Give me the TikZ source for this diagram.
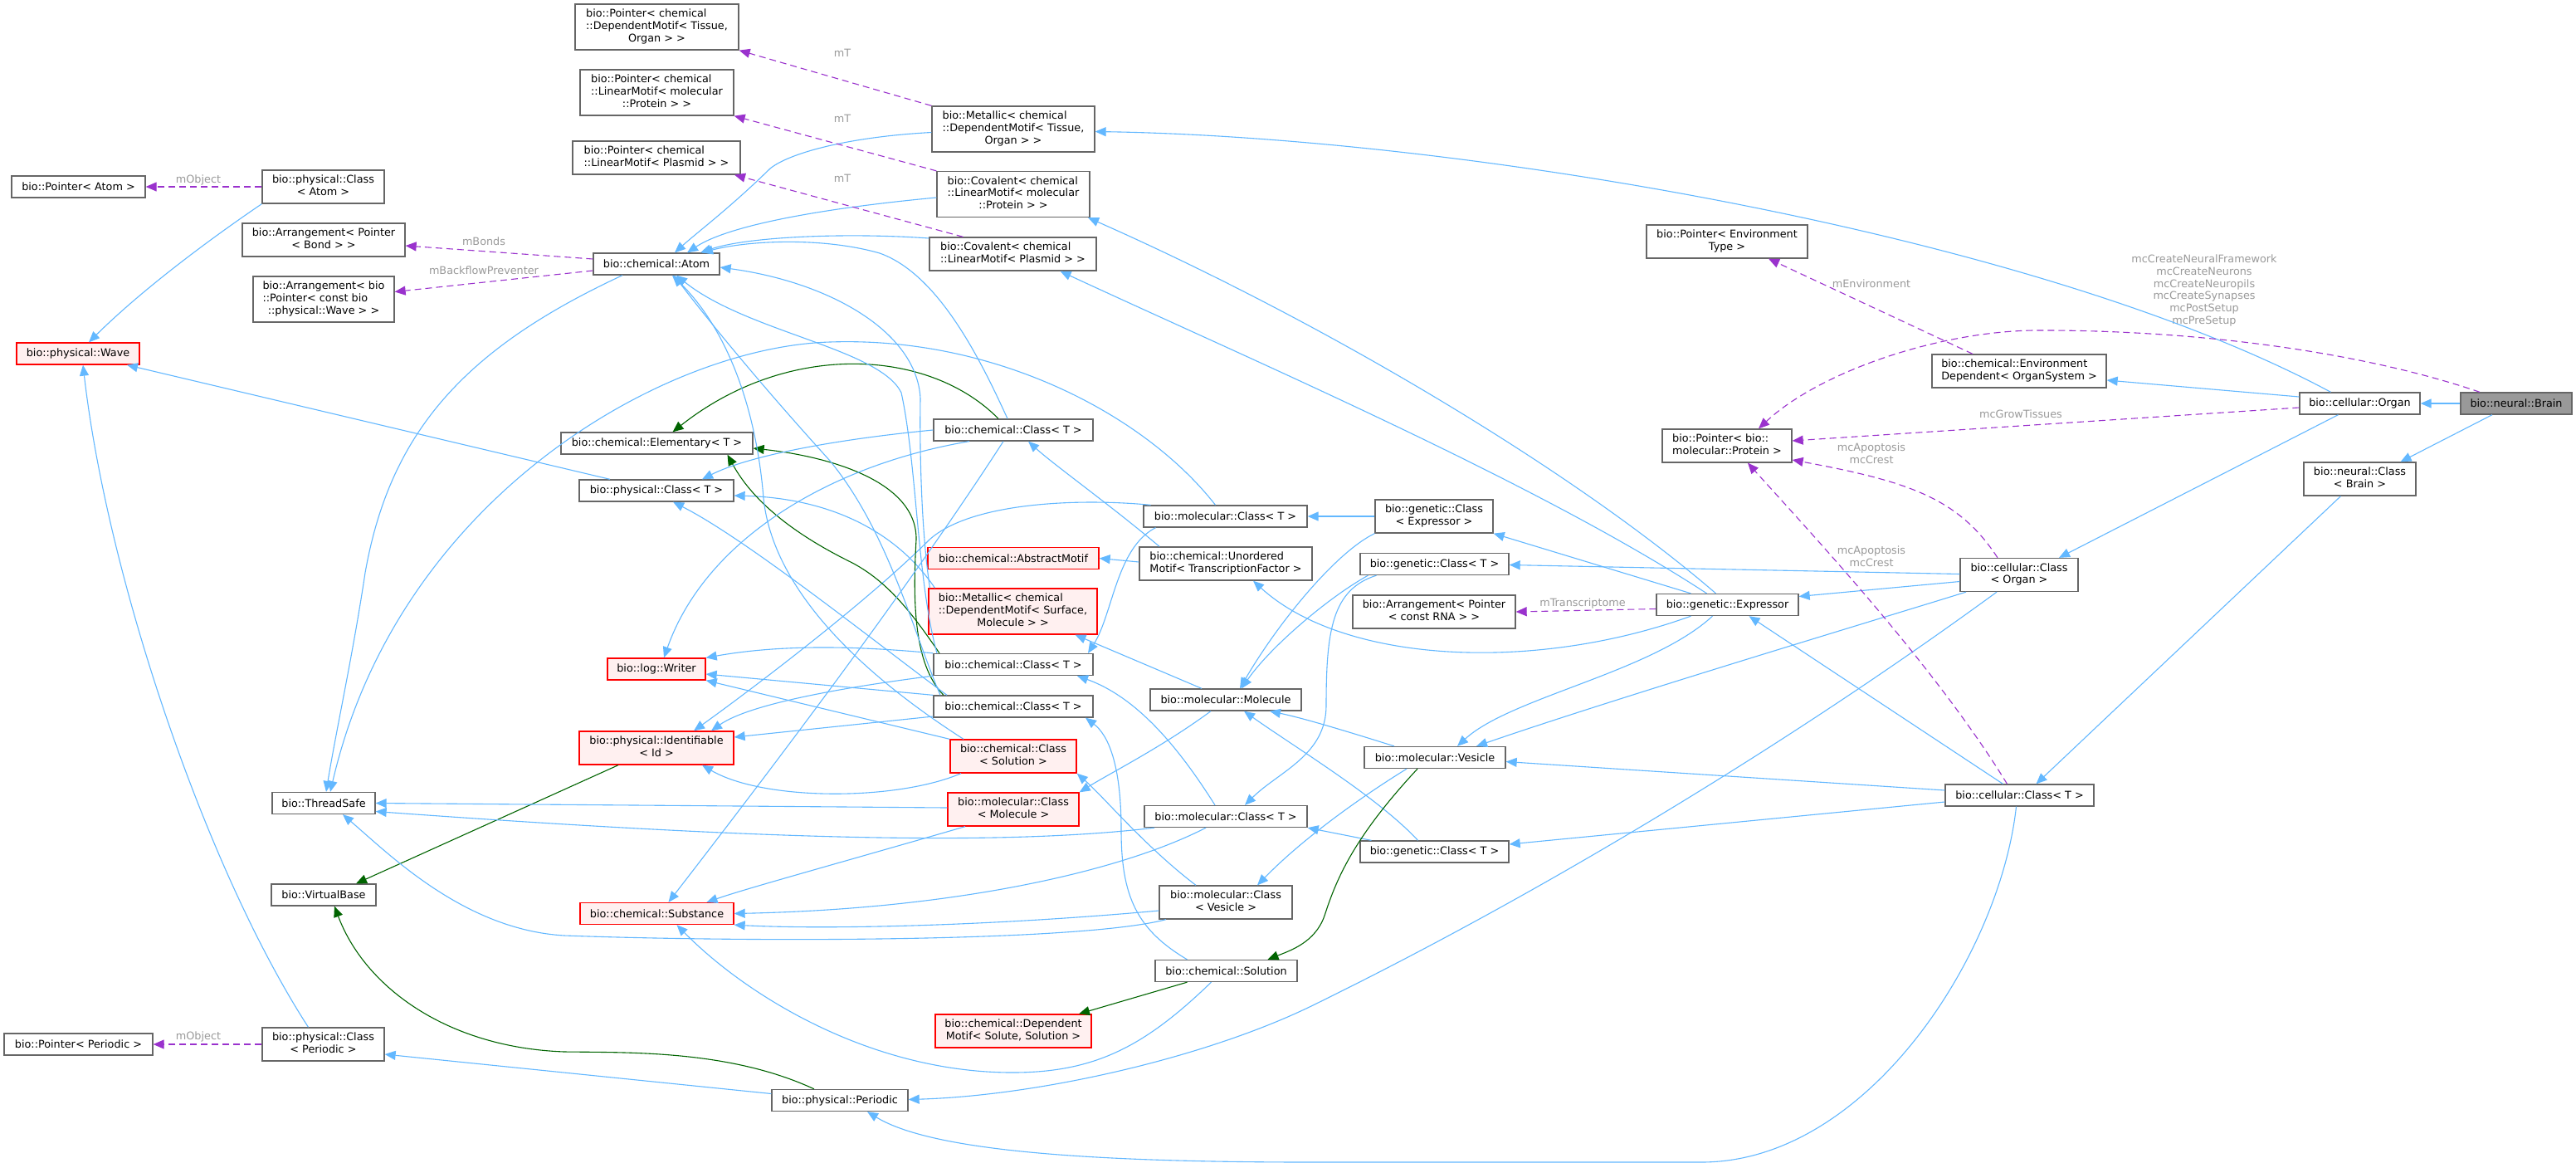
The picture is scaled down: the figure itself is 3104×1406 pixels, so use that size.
\documentclass[tikz,border=0pt]{standalone}
\usepackage{fontspec}
\setmainfont{DejaVu Sans}
\usetikzlibrary{arrows.meta}
\definecolor{eblue}{HTML}{63B8FF}
\definecolor{egreen}{HTML}{006400}
\definecolor{epurple}{HTML}{9A32CD}
\definecolor{lgray}{HTML}{9A9A9A}
\definecolor{nborder}{HTML}{666666}
\definecolor{rfill}{HTML}{FFF0F0}
\definecolor{bfill}{HTML}{999999}
\newcommand\NLtwo[2]{\begin{tabular}{@{}l@{}}#1\\\multicolumn{1}{@{}c@{}}{#2}\end{tabular}}
\newcommand\NLthree[3]{\begin{tabular}{@{}l@{}}#1\\#2\\\multicolumn{1}{@{}c@{}}{#3}\end{tabular}}
\begin{document}
\begin{tikzpicture}[x=1pt,y=-1pt,font=\fontsize{12.8}{14.7}\selectfont,
  nd/.style={draw=nborder,line width=1.3pt,fill=white,inner sep=0pt,align=center},
  rd/.style={nd,draw=red,fill=rfill},
  hA/.style={minimum height=26pt},
  hB/.style={minimum height=40pt},
  hC/.style={minimum height=55pt},
  eb/.style={draw=eblue,line width=1.1pt,-{Triangle[length=13pt,width=11pt]}},
  eg/.style={eb,draw=egreen},
  ep/.style={draw=epurple,line width=1.1pt,dash pattern=on 8pt off 5pt,-{Triangle[length=13pt,width=11pt]}},
  lbl/.style={text=lgray,inner sep=0pt,align=center}]
\fill[white] (0,0) rectangle (3104,1406);
\useasboundingbox (0,0) rectangle (3104,1406);
% ---------- nodes ----------
\node[nd,hA,minimum width=161pt] (PAtom) at (94.5,225) {bio::Pointer< Atom >};
\node[nd,hB,minimum width=147pt] (PhysClsAtom) at (389.5,225) {\NLtwo{bio::physical::Class}{< Atom >}};
\node[nd,hB,minimum width=196pt] (ArrBond) at (390,289) {\NLtwo{bio::Arrangement< Pointer}{< Bond > >}};
\node[nd,hC,minimum width=170pt] (ArrWave) at (390,360.5) {\NLthree{bio::Arrangement< bio}{::Pointer< const bio}{::physical::Wave > >}};
\node[rd,hA,minimum width=148pt] (Wave) at (94,426) {bio::physical::Wave};
\node[nd,hA,minimum width=152pt] (Atom) at (791,318) {bio::chemical::Atom};
\node[nd,hC,minimum width=197pt] (PDepTissue) at (791.5,32.5) {\NLthree{bio::Pointer< chemical}{::DependentMotif< Tissue,}{Organ > >}};
\node[nd,hC,minimum width=185pt] (PLinProt) at (791.5,111.5) {\NLthree{bio::Pointer< chemical}{::LinearMotif< molecular}{::Protein > >}};
\node[nd,hB,minimum width=202pt] (PLinPlas) at (791,190) {\NLtwo{bio::Pointer< chemical}{::LinearMotif< Plasmid > >}};
\node[nd,hC,minimum width=196pt] (MetTissue) at (1221,155.5) {\NLthree{bio::Metallic< chemical}{::DependentMotif< Tissue,}{Organ > >}};
\node[nd,hC,minimum width=184pt] (CovProt) at (1221,234) {\NLthree{bio::Covalent< chemical}{::LinearMotif< molecular}{::Protein > >}};
\node[nd,hB,minimum width=201pt] (CovPlas) at (1220.5,306) {\NLtwo{bio::Covalent< chemical}{::LinearMotif< Plasmid > >}};
\node[nd,hB,minimum width=194pt] (PEnv) at (2081,291) {\NLtwo{bio::Pointer< Environment}{Type >}};
\node[nd,hB,minimum width=210pt] (EnvDep) at (2433,447) {\NLtwo{bio::chemical::Environment}{Dependent< OrganSystem >}};
\node[nd,hA,minimum width=145pt] (Organ) at (2843.5,486) {bio::cellular::Organ};
\node[nd,hA,minimum width=134pt,fill=bfill] (Brain) at (3032,486) {bio::neural::Brain};
\node[nd,hB,minimum width=135pt] (NeuralCls) at (2843.5,577) {\NLtwo{bio::neural::Class}{< Brain >}};
\node[nd,hB,minimum width=142pt] (CellClsOrgan) at (2433,692.5) {\NLtwo{bio::cellular::Class}{< Organ >}};
\node[nd,hA,minimum width=179pt] (CellClsT) at (2433.5,958) {bio::cellular::Class< T >};
\node[nd,hB,minimum width=156pt] (PProtein) at (2081,537) {\NLtwo{bio::Pointer< bio::}{molecular::Protein >}};
\node[nd,hB,minimum width=142pt] (GenClsExpr) at (1728,622) {\NLtwo{bio::genetic::Class}{< Expressor >}};
\node[nd,hA,minimum width=179pt] (GenClsT1) at (1728.5,679.5) {bio::genetic::Class< T >};
\node[nd,hB,minimum width=196pt] (ArrRNA) at (1728,737) {\NLtwo{bio::Arrangement< Pointer}{< const RNA > >}};
\node[nd,hA,minimum width=171pt] (Expressor) at (2081.5,728.5) {bio::genetic::Expressor};
\node[nd,hA,minimum width=170pt] (Vesicle) at (1729,912.5) {bio::molecular::Vesicle};
\node[nd,hA,minimum width=231pt] (Elementary) at (791.5,534) {bio::chemical::Elementary< T >};
\node[nd,hA,minimum width=186pt] (PhysClsT) at (791,591) {bio::physical::Class< T >};
\node[nd,hA,minimum width=192pt] (ChemClsT1) at (1221,518) {bio::chemical::Class< T >};
\node[nd,hA,minimum width=197pt] (MolClsT1) at (1476.5,622) {bio::molecular::Class< T >};
\node[rd,hA,minimum width=206pt] (AbsMotif) at (1221,672.5) {bio::chemical::AbstractMotif};
\node[nd,hB,minimum width=208pt] (Unordered) at (1477,679) {\NLtwo{bio::chemical::Unordered}{Motif< TranscriptionFactor >}};
\node[rd,hC,minimum width=203pt] (MetSurface) at (1220.5,736.5) {\NLthree{bio::Metallic< chemical}{::DependentMotif< Surface,}{Molecule > >}};
\node[nd,hA,minimum width=192pt] (ChemClsT2) at (1221,800.5) {bio::chemical::Class< T >};
\node[nd,hA,minimum width=192pt] (ChemClsT3) at (1221,851) {bio::chemical::Class< T >};
\node[nd,hA,minimum width=182pt] (MolMolecule) at (1477,843) {bio::molecular::Molecule};
\node[rd,hB,minimum width=152pt] (ChemClsSol) at (1221,911) {\NLtwo{bio::chemical::Class}{< Solution >}};
\node[rd,hA,minimum width=118pt] (Writer) at (791,806) {bio::log::Writer};
\node[rd,hB,minimum width=186pt] (Identifiable) at (791,901) {\NLtwo{bio::physical::Identifiable}{< Id >}};
\node[nd,hA,minimum width=124pt] (ThreadSafe) at (390,967.5) {bio::ThreadSafe};
\node[nd,hA,minimum width=126pt] (VirtualBase) at (390,1078) {bio::VirtualBase};
\node[nd,hB,minimum width=147pt] (PhysClsPeriodic) at (389.5,1258) {\NLtwo{bio::physical::Class}{< Periodic >}};
\node[nd,hA,minimum width=179pt] (PPeriodic) at (94.5,1258) {bio::Pointer< Periodic >};
\node[rd,hA,minimum width=185pt] (Substance) at (791.5,1100.5) {bio::chemical::Substance};
\node[rd,hB,minimum width=158pt] (MolClsMolecule) at (1221,975) {\NLtwo{bio::molecular::Class}{< Molecule >}};
\node[nd,hA,minimum width=196pt] (MolClsT2) at (1477,983.5) {bio::molecular::Class< T >};
\node[nd,hB,minimum width=160pt] (MolClsVesicle) at (1477,1087) {\NLtwo{bio::molecular::Class}{< Vesicle >}};
\node[nd,hA,minimum width=171pt] (ChemSolution) at (1477.5,1169.5) {bio::chemical::Solution};
\node[rd,hB,minimum width=188pt] (DepMotifSolute) at (1221,1242) {\NLtwo{bio::chemical::Dependent}{Motif< Solute, Solution >}};
\node[nd,hA,minimum width=164pt] (Periodic) at (1012,1325.5) {bio::physical::Periodic};
\node[nd,hA,minimum width=179pt] (GenClsT2) at (1728.5,1026) {bio::genetic::Class< T >};
% ---------- labels ----------
\node[lbl] (lObj1) at (239,217) {mObject};
\node[lbl] (lBonds) at (583,291) {mBonds};
\node[lbl] (lBack) at (583,326) {mBackflowPreventer};
\node[lbl] (lmT1) at (1015,64) {mT};
\node[lbl] (lmT2) at (1015,143) {mT};
\node[lbl] (lmT3) at (1015,215) {mT};
\node[lbl] (lEnv) at (2255,342) {mEnvironment};
\node[lbl] (lBrain) at (2656,350) {mcCreateNeuralFramework\\mcCreateNeurons\\mcCreateNeuropils\\mcCreateSynapses\\mcPostSetup\\mcPreSetup};
\node[lbl] (lGrow) at (2435,499) {mcGrowTissues};
\node[lbl] (lApo1) at (2255,546) {mcApoptosis\\mcCrest};
\node[lbl] (lApo2) at (2255,670) {mcApoptosis\\mcCrest};
\node[lbl] (lTrans) at (1907,727) {mTranscriptome};
\node[lbl] (lObj2) at (239,1249) {mObject};
% ---------- blue / green edges ----------
\draw[eb] (Brain) -- (Organ);
\draw[eb] ([xshift=-29pt]Brain.south) -- ([xshift=49pt]NeuralCls.north);
\draw[eb] ([xshift=-35pt]Organ.north) .. controls (2450,280) and (1750,165) .. ([yshift=-3pt]MetTissue.east);
\draw[eb] ([yshift=8pt]Organ.west) -- ([yshift=-11pt]EnvDep.east);
\draw[eb] ([xshift=-26pt]Organ.south) -- ([xshift=48pt]CellClsOrgan.north);
\draw[eb] ([xshift=-23pt]NeuralCls.south) -- ([xshift=20pt]CellClsT.north);
\draw[eb] ([yshift=1pt]CellClsOrgan.west) -- ([yshift=-1pt]GenClsT1.east);
\draw[eb] ([yshift=-8pt]CellClsOrgan.west) -- ([yshift=10pt]Expressor.east);
\draw[eb] ([xshift=-64pt]CellClsOrgan.south) .. controls (2250,750) and (1950,840) .. ([xshift=50pt]Vesicle.north);
\draw[eb] ([xshift=-27pt]CellClsOrgan.south) .. controls (2150,900) and (1850,1080) .. (1580,1212) .. controls (1450,1275) and (1250,1320) .. ([yshift=1pt]Periodic.east);
\draw[eb] ([yshift=6pt]CellClsT.west) -- ([yshift=-5pt]Vesicle.east);
\draw[eb] ([yshift=-8pt]CellClsT.west) -- ([yshift=9pt]GenClsT2.east);
\draw[eb] ([xshift=-4pt]CellClsT.south) .. controls (2410,1150) and (2250,1400) .. (2050,1400) -- (1580,1400) .. controls (1300,1400) and (1120,1385) .. ([xshift=33pt]Periodic.south);
\draw[eb] ([xshift=-20pt]CellClsT.north) -- ([xshift=26pt]Expressor.south);
\draw[eb] ([xshift=-44pt]Expressor.north) -- (GenClsExpr.south east);
\draw[eb] ([xshift=-14pt]Expressor.north) .. controls (1900,570) and (1600,390) .. ([xshift=90pt]CovProt.south);
\draw[eb] ([xshift=-25pt]Expressor.north) .. controls (1850,580) and (1500,430) .. ([xshift=57pt]CovPlas.south);
\draw[eb] ([xshift=-18pt]Expressor.south) .. controls (1990,810) and (1820,840) .. ([xshift=27pt]Vesicle.north);
\draw[eb] ([xshift=-44pt]Expressor.south) .. controls (1850,810) and (1620,800) .. ([xshift=33pt]Unordered.south);
\draw[eb] (GenClsExpr) -- (MolClsT1);
\draw[eb] (GenClsExpr.south west) .. controls (1610,665) and (1540,750) .. ([xshift=17pt]MolMolecule.north);
\draw[eb] ([xshift=-80pt]GenClsT1.south) .. controls (1600,720) and (1530,780) .. ([xshift=19pt]MolMolecule.north);
\draw[eb] ([xshift=-70pt]GenClsT1.south) .. controls (1605,710) and (1598,760) .. (1598,850) .. controls (1598,910) and (1540,930) .. ([xshift=23pt]MolClsT2.north);
\draw[eb] ([xshift=-76pt]GenClsT2.north) -- (MolClsT2.south east);
\draw[eb] ([xshift=-20pt]GenClsT2.north) .. controls (1660,960) and (1560,900) .. ([xshift=22pt]MolMolecule.south);
\draw[eb] ([xshift=-49pt]Vesicle.north) .. controls (1620,880) and (1570,865) .. ([xshift=53pt]MolMolecule.south);
\draw[eg] ([xshift=-21pt]Vesicle.south) .. controls (1630,1010) and (1610,1060) .. (1596,1103) .. controls (1585,1135) and (1555,1145) .. ([xshift=50pt]ChemSolution.north);
\draw[eb] ([xshift=-34pt]Vesicle.south) .. controls (1640,960) and (1570,1010) .. ([xshift=38pt]MolClsVesicle.north);
\draw[eb] ([xshift=-18pt]MolMolecule.south) .. controls (1400,900) and (1340,930) .. (MolClsMolecule.north east);
\draw[eb] ([xshift=-29pt]MolMolecule.north) -- ([xshift=75pt]MetSurface.south);
\draw[eb] ([xshift=-84pt]MolClsT1.south) .. controls (1345,660) and (1341,740) .. ([xshift=90pt]ChemClsT2.north);
\draw[eb] ([xshift=-12pt]MolClsT1.north) .. controls (1380,500) and (1200,405) .. (1000,412) .. controls (800,418) and (480,600) .. ([xshift=8pt]ThreadSafe.north);
\draw[eb] ([xshift=-90pt]MolClsT1.north) .. controls (1300,600) and (1170,605) .. (1120,650) .. controls (1050,720) and (920,820) .. ([xshift=45pt]Identifiable.north);
\draw[eb] ([xshift=-41pt]Atom.south) .. controls (560,420) and (470,520) .. (440,690) .. controls (425,790) and (405,880) .. ([xshift=3pt]ThreadSafe.north);
\draw[eb] (PhysClsAtom.south west) .. controls (250,290) and (170,350) .. ([xshift=13pt]Wave.north);
\draw[eb] ([xshift=-56pt]PhysClsT.north) -- ([xshift=59pt]Wave.south);
\draw[eb] ([xshift=-18pt]PhysClsPeriodic.north) .. controls (250,1050) and (130,700) .. ([xshift=6pt]Wave.south);
\draw[eb] ([yshift=8pt]Periodic.west) -- ([yshift=-12pt]PhysClsPeriodic.east);
\draw[eg] ([xshift=-31pt]Periodic.north) .. controls (880,1265) and (760,1268) .. (680,1267) .. controls (540,1262) and (440,1190) .. ([xshift=13pt]VirtualBase.south);
\draw[eg] ([xshift=-46pt]Identifiable.south) -- ([xshift=39pt]VirtualBase.north);
\draw[eg] ([xshift=-47pt]ChemSolution.south) -- ([xshift=79pt]DepMotifSolute.north);
\draw[eb] ([xshift=-18pt]ChemSolution.south) .. controls (1380,1260) and (1320,1292) .. (1220,1292) .. controls (1050,1292) and (900,1200) .. ([xshift=24pt]Substance.south);
\draw[eb] ([xshift=-47pt]ChemSolution.north) .. controls (1370,1120) and (1351,1080) .. (1351,1000) .. controls (1351,920) and (1335,885) .. ([xshift=87pt]ChemClsT3.south);
\draw[eb] ([xshift=-36pt]MolClsVesicle.north) .. controls (1380,1020) and (1330,960) .. (ChemClsSol.south east);
\draw[eb] ([yshift=-10pt]MolClsVesicle.west) .. controls (1200,1115) and (1000,1120) .. (Substance.south east);
\draw[eb] ([xshift=-72pt]MolClsVesicle.south) .. controls (1300,1135) and (900,1135) .. (680,1127) .. controls (560,1120) and (470,1030) .. ([xshift=23pt]ThreadSafe.south);
\draw[eb] ([yshift=2pt]MolClsMolecule.west) -- (ThreadSafe.east);
\draw[eb] ([xshift=-58pt]MolClsMolecule.south) .. controls (1010,1040) and (900,1070) .. ([xshift=60pt]Substance.north);
\draw[eb] ([xshift=-86pt]MolClsT2.south) .. controls (1200,1020) and (900,1010) .. ([yshift=-10pt]ThreadSafe.east);
\draw[eb] ([xshift=-24pt]MolClsT2.south) .. controls (1350,1050) and (1150,1095) .. (Substance.east);
\draw[eb] ([xshift=-13pt]MolClsT2.north) .. controls (1420,900) and (1370,840) .. ([xshift=77pt]ChemClsT2.south);
\draw[eb] ([xshift=-94pt]MetSurface.north) .. controls (1080,640) and (1000,600) .. ([yshift=-6pt]PhysClsT.east);
\draw[eb] ([yshift=2pt]Unordered.west) -- (AbsMotif.east);
\draw[eb] ([xshift=-80pt]Unordered.north) .. controls (1340,610) and (1270,560) .. ([xshift=18pt]ChemClsT1.south);
\draw[eg] ([xshift=-18pt]ChemClsT1.north) .. controls (1120,420) and (950,410) .. ([xshift=19pt]Elementary.north);
\draw[eg] ([xshift=-84pt]ChemClsT3.north) .. controls (1100,800) and (1100,720) .. (1104,650) .. controls (1105,580) and (1000,550) .. ([yshift=-6pt]Elementary.east);
\draw[eg] ([xshift=-89pt]ChemClsT2.north) .. controls (1100,740) and (1070,700) .. (1025,677) .. controls (950,640) and (905,600) .. ([xshift=85pt]Elementary.south);
\draw[eb] (ChemClsT1.west) .. controls (1000,530) and (900,550) .. ([xshift=55pt]PhysClsT.north);
\draw[eb] ([xshift=-53pt]ChemClsT1.south) .. controls (1000,560) and (850,650) .. ([xshift=9pt]Writer.north);
\draw[eb] ([xshift=-12pt]ChemClsT1.south) .. controls (1100,700) and (950,900) .. ([xshift=14pt]Substance.north);
\draw[eb] (ChemClsT2.north west) .. controls (1000,775) and (920,780) .. (Writer.north east);
\draw[eb] (ChemClsT3.north west) -- ([yshift=-6pt]Writer.east);
\draw[eb] (ChemClsSol.north west) -- (Writer.south east);
\draw[eb] (ChemClsT2.south west) .. controls (1000,830) and (900,850) .. ([xshift=66pt]Identifiable.north);
\draw[eb] ([yshift=-12pt]ChemClsT3.west) -- ([yshift=13pt]Identifiable.east);
\draw[eb] ([xshift=-63pt]ChemClsSol.south) .. controls (1080,965) and (920,965) .. ([xshift=55pt]Identifiable.south);
\draw[eb] ([xshift=-80pt]ChemClsT3.north) .. controls (1050,770) and (900,650) .. ([xshift=20pt]PhysClsT.south);
% into Atom
\draw[eb] ([yshift=-4pt]MetTissue.west) .. controls (1020,165) and (950,185) .. (928,203) .. controls (880,250) and (840,280) .. ([xshift=22pt]Atom.north);
\draw[eb] ([yshift=-4pt]CovProt.west) .. controls (1000,250) and (880,270) .. ([xshift=37pt]Atom.north);
\draw[eb] ([yshift=19pt]CovPlas.west) .. controls (1020,280) and (900,285) .. ([xshift=53pt]Atom.north);
\draw[eb] ([xshift=-7pt]ChemClsT1.north) .. controls (1180,430) and (1130,330) .. (1060,305) .. controls (990,285) and (900,290) .. ([xshift=55pt]Atom.north);
\draw[eb] ([xshift=-100pt]MetSurface.north) .. controls (1110,640) and (1108,540) .. (1109,480) .. controls (1105,400) and (1000,340) .. ([yshift=-4pt]Atom.east);
\draw[eb] ([xshift=-92pt]ChemClsT2.north) .. controls (1105,700) and (1105,560) .. (1086,473) .. controls (1060,420) and (900,400) .. ([xshift=24pt]Atom.south);
\draw[eb] ([xshift=-88pt]ChemClsT3.north) .. controls (1100,760) and (1070,640) .. (1000,555) .. controls (950,500) and (880,420) .. ([xshift=21pt]Atom.south);
\draw[eb] ([xshift=-60pt]ChemClsSol.north) .. controls (1020,800) and (930,700) .. (920,600) .. controls (912,500) and (880,400) .. ([xshift=19pt]Atom.south);
% ---------- dashed purple ----------
\draw[ep] (PhysClsAtom) -- (PAtom);
\draw[ep] ([yshift=6pt]Atom.west) -- ([yshift=-7pt]ArrBond.east);
\draw[ep] ([yshift=-8pt]Atom.west) -- ([yshift=9pt]ArrWave.east);
\draw[ep] (MetTissue.north west) -- (PDepTissue.south east);
\draw[ep] (CovProt.north west) -- (PLinProt.south east);
\draw[ep] ([xshift=-60pt]CovPlas.north) -- ([xshift=94pt]PLinPlas.south);
\draw[ep] ([xshift=-56pt]EnvDep.north) -- ([xshift=50pt]PEnv.south);
\draw[ep] ([xshift=-44pt]Brain.north) .. controls (2850,425) and (2650,397) .. (2450,398) .. controls (2330,400) and (2190,450) .. ([xshift=38pt]PProtein.north);
\draw[ep] ([yshift=-5pt]Organ.west) -- ([yshift=6pt]PProtein.east);
\draw[ep] ([xshift=-26pt]CellClsOrgan.north) .. controls (2360,600) and (2300,580) .. ([yshift=-17pt]PProtein.east);
\draw[ep] ([xshift=-15pt]CellClsT.north) .. controls (2330,800) and (2180,640) .. ([xshift=25pt]PProtein.south);
\draw[ep] ([yshift=-5pt]Expressor.west) -- (ArrRNA.east);
\draw[ep] (PhysClsPeriodic) -- (PPeriodic);
\end{tikzpicture}
\end{document}
